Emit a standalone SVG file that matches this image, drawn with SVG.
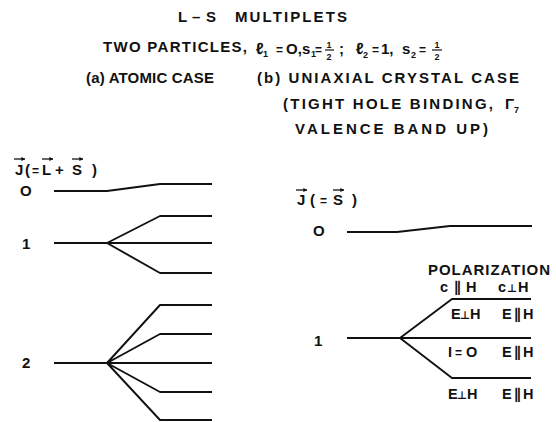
<svg xmlns="http://www.w3.org/2000/svg" width="556" height="422" viewBox="0 0 556 422">
<style>
  text { font-family: "Liberation Sans", "DejaVu Sans", sans-serif; font-weight: bold; font-size: 15px; fill: #111; }
  .sm { font-size: 9px; }
  .eq { font-size: 12px; }
  .pl { font-size: 14.5px; }
  .sy { font-size: 11px; }
  .lv { fill: none; stroke: #111; stroke-width: 1.9; stroke-linejoin: round; }
  .vec { stroke: #111; stroke-width: 1.3; marker-end: url(#ah); }
  .bar { stroke: #111; stroke-width: 1.2; }
</style>
<defs>
  <marker id="ah" viewBox="0 0 6 6" refX="5.5" refY="3" markerWidth="4" markerHeight="4" orient="auto" markerUnits="userSpaceOnUse">
    <path d="M0,0 L6,3 L0,6 z" fill="#111"/>
  </marker>
</defs>
<rect width="556" height="422" fill="#fff"/>

<g id="title">
  <text y="22"><tspan x="178">L</tspan><tspan x="192">–</tspan><tspan x="206">S</tspan></text>
  <text x="235" y="22" textLength="112" lengthAdjust="spacing">MULTIPLETS</text>
  <text x="103" y="52" textLength="144" lengthAdjust="spacing">TWO PARTICLES,</text>
  <text x="256" y="54" style="font-size:16px">ℓ</text>
  <text x="263" y="57" class="sm">1</text>
  <text x="276" y="54" class="eq">=</text>
  <text x="286" y="54">O,</text>
  <text x="302" y="54">s</text>
  <text x="311" y="57" class="sm">1</text>
  <text x="315" y="54" class="eq">=</text>
  <text x="329" y="48" class="sm" text-anchor="middle">1</text>
  <line class="bar" x1="325" y1="50" x2="334" y2="50"/>
  <text x="329" y="60" class="sm" text-anchor="middle">2</text>
  <text x="339" y="54">;</text>
  <text x="356" y="54" style="font-size:16px">ℓ</text>
  <text x="363" y="58" class="sm">2</text>
  <text x="372" y="54" class="eq">=</text>
  <text x="381" y="54">1,</text>
  <text x="402" y="54">s</text>
  <text x="411" y="58" class="sm">2</text>
  <text x="419" y="54" class="eq">=</text>
  <text x="437" y="48" class="sm" text-anchor="middle">1</text>
  <line class="bar" x1="432" y1="50" x2="442" y2="50"/>
  <text x="437" y="60" class="sm" text-anchor="middle">2</text>
  <text x="86" y="83" textLength="128" lengthAdjust="spacing">(a) ATOMIC CASE</text>
  <text x="257" y="83" textLength="262" lengthAdjust="spacing">(b) UNIAXIAL CRYSTAL CASE</text>
  <text x="283" y="109" textLength="210" lengthAdjust="spacing">(TIGHT HOLE BINDING,</text>
  <text x="505" y="109">Γ</text>
  <text x="514" y="113" class="sm">7</text>
  <text x="295" y="134" textLength="193" lengthAdjust="spacing">VALENCE BAND UP)</text>
</g>

<g id="atomic-case">
  <g id="atomic-axis-label">
    <text y="175"><tspan x="15">J</tspan><tspan x="25">(</tspan><tspan x="32" class="eq">=</tspan><tspan x="42">L</tspan><tspan x="55">+</tspan><tspan x="72">S</tspan><tspan x="92">)</tspan></text>
    <line class="vec" x1="14" y1="159" x2="25" y2="159"/>
    <line class="vec" x1="42" y1="159" x2="53" y2="159"/>
    <line class="vec" x1="72" y1="159" x2="83" y2="159"/>
  </g>
  <g id="atomic-J0">
    <text x="20" y="196">O</text>
    <path class="lv" d="M54,191 L107,191 L160,184 L212,184"/>
  </g>
  <g id="atomic-J1">
    <text x="22" y="249">1</text>
    <path class="lv" d="M54,243 L107,243 M107,243 L160,216 L212,216 M107,243 L212,243 M107,243 L160,273 L212,273"/>
  </g>
  <g id="atomic-J2">
    <text x="22" y="368">2</text>
    <path class="lv" d="M54,363 L107,363 M107,363 L160,305 L212,305 M107,363 L160,334 L212,334 M107,363 L212,363 M107,363 L160,392 L212,392 M107,363 L160,420 L212,420"/>
  </g>
</g>

<g id="crystal-case">
  <g id="crystal-axis-label">
    <text y="205"><tspan x="297">J</tspan><tspan x="310">(</tspan><tspan x="320" class="eq">=</tspan><tspan x="333">S</tspan><tspan x="352">)</tspan></text>
    <line class="vec" x1="296" y1="190" x2="307" y2="190"/>
    <line class="vec" x1="333" y1="190" x2="344" y2="190"/>
  </g>
  <g id="crystal-J0">
    <text x="313" y="236">O</text>
    <path class="lv" d="M347,232 L397,232 L450,226 L532,226"/>
  </g>
  <g id="crystal-J1">
    <text x="314" y="346">1</text>
    <path class="lv" d="M347,338 L400,338 M400,338 L452,299 L531,299 M400,338 L531,338 M400,338 L452,378 L531,378"/>
  </g>
  <g id="polarization">
    <text x="428" y="275" textLength="122" lengthAdjust="spacing">POLARIZATION</text>
    <text class="pl" y="292"><tspan x="440">c</tspan><tspan x="454">∥</tspan><tspan x="466">H</tspan></text>
    <text class="pl" y="292"><tspan x="498">c</tspan><tspan x="507" class="sy">⊥</tspan><tspan x="518">H</tspan></text>
    <text class="pl" y="319"><tspan x="451">E</tspan><tspan x="460" class="sy">⊥</tspan><tspan x="470">H</tspan></text>
    <text class="pl" y="319"><tspan x="502">E</tspan><tspan x="514">∥</tspan><tspan x="523">H</tspan></text>
    <text class="pl" y="357"><tspan x="448">I</tspan><tspan x="455" class="eq">=</tspan><tspan x="466">O</tspan></text>
    <text class="pl" y="357"><tspan x="502">E</tspan><tspan x="514">∥</tspan><tspan x="523">H</tspan></text>
    <text class="pl" y="399"><tspan x="448">E</tspan><tspan x="457" class="sy">⊥</tspan><tspan x="467">H</tspan></text>
    <text class="pl" y="399"><tspan x="502">E</tspan><tspan x="514">∥</tspan><tspan x="523">H</tspan></text>
  </g>
</g>
</svg>
